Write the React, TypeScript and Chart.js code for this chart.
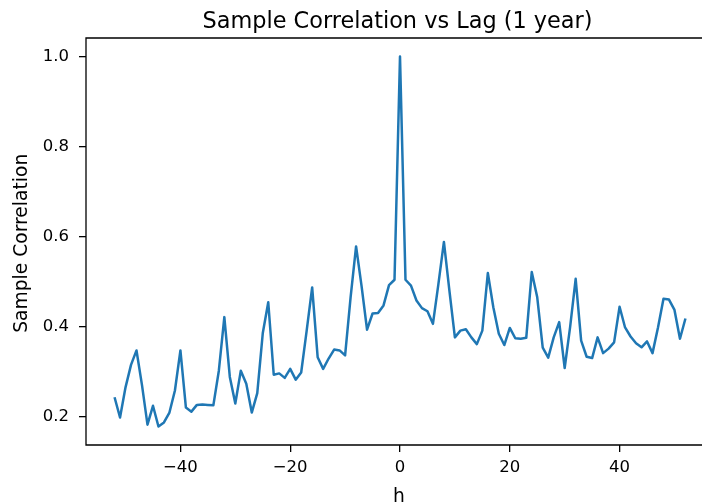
import { useEffect, useRef } from "react";
import { Chart, registerables } from "chart.js";

Chart.register(...registerables);

const lags = [
  -52, -51, -50, -49, -48, -47, -46, -45, -44, -43, -42, -41, -40, -39, -38, -37, -36, -35,
  -34, -33, -32, -31, -30, -29, -28, -27, -26, -25, -24, -23, -22, -21, -20, -19, -18, -17,
  -16, -15, -14, -13, -12, -11, -10, -9, -8, -7, -6, -5, -4, -3, -2, -1, 0, 1, 2, 3, 4, 5,
  6, 7, 8, 9, 10, 11, 12, 13, 14, 15, 16, 17, 18, 19, 20, 21, 22, 23, 24, 25, 26, 27, 28,
  29, 30, 31, 32, 33, 34, 35, 36, 37, 38, 39, 40, 41, 42, 43, 44, 45, 46, 47, 48, 49, 50,
  51, 52,
];

const correlations = [
  0.243, 0.198, 0.265, 0.315, 0.347, 0.27, 0.182, 0.224, 0.178, 0.187, 0.209, 0.258, 0.347,
  0.22, 0.211, 0.226, 0.227, 0.226, 0.225, 0.302, 0.421, 0.288, 0.229, 0.302, 0.273, 0.209,
  0.252, 0.385, 0.454, 0.293, 0.296, 0.286, 0.306, 0.282, 0.298, 0.391, 0.487, 0.332, 0.306,
  0.329, 0.349, 0.347, 0.336, 0.465, 0.578, 0.49, 0.393, 0.429, 0.43, 0.447, 0.492, 0.504,
  1.0,
  0.504, 0.491, 0.458, 0.441, 0.434, 0.406, 0.495, 0.588, 0.48, 0.376, 0.391, 0.394, 0.376,
  0.361, 0.391, 0.519, 0.443, 0.384, 0.359, 0.397, 0.374, 0.373, 0.375, 0.521, 0.465, 0.353,
  0.331, 0.376, 0.41, 0.308, 0.4, 0.506, 0.369, 0.333, 0.33, 0.376, 0.341, 0.351, 0.365,
  0.444, 0.398, 0.378, 0.363, 0.354, 0.367, 0.341, 0.398, 0.462, 0.46, 0.437, 0.373, 0.418,
];

const xTicks = [-40, -20, 0, 20, 40];
const yTicks = [0.2, 0.4, 0.6, 0.8, 1.0];
const xRange = [-57.2, 57.2];
const yRange = [0.1369, 1.0411];

const titleText = "Sample Correlation vs Lag (1 year)";
const xLabel = "h";
const yLabel = "Sample Correlation";

const FAMILY = "'DejaVu Sans', sans-serif";

export default function App() {
  const ref = useRef<HTMLCanvasElement>(null);

  useEffect(() => {
    if (!ref.current) return;

    const framePlugin = {
      id: "frameAndLabels",
      afterDraw(chart: any) {
        const { ctx, chartArea } = chart;
        const { left, top, right, bottom } = chartArea;
        ctx.save();
        ctx.strokeStyle = "#000";
        ctx.lineWidth = 1.3;
        ctx.beginPath();
        ctx.moveTo(right + 2, top);
        ctx.lineTo(left, top);
        ctx.lineTo(left, bottom);
        ctx.lineTo(right + 2, bottom);
        ctx.stroke();

        ctx.fillStyle = "#000";
        ctx.textAlign = "center";
        ctx.textBaseline = "alphabetic";
        ctx.font = `22.4px ${FAMILY}`;
        ctx.fillText(titleText, 397.5, 27.5);

        ctx.font = `18.7px ${FAMILY}`;
        ctx.fillText(xLabel, 399, 502);

        ctx.translate(27.3, 243.3);
        ctx.rotate(-Math.PI / 2);
        ctx.fillText(yLabel, 0, 0);
        ctx.restore();
      },
    };

    const tickFont = { family: FAMILY, size: 16.5 };

    const chart = new Chart(ref.current, {
      type: "line",
      data: {
        datasets: [
          {
            data: lags.map((h, i) => ({ x: h, y: correlations[i] })),
            borderColor: "#1f77b4",
            borderWidth: 2.5,
            borderJoinStyle: "round",
            pointRadius: 0,
            tension: 0,
            fill: false,
          },
        ],
      },
      options: {
        responsive: false,
        maintainAspectRatio: false,
        animation: false,
        devicePixelRatio: 1,
        layout: { padding: { top: 38, right: 46, left: 0, bottom: 0 } },
        plugins: {
          legend: { display: false },
          tooltip: { enabled: false },
          title: { display: false },
        },
        scales: {
          x: {
            type: "linear",
            min: xRange[0],
            max: xRange[1],
            afterBuildTicks: (s: any) => {
              s.ticks = xTicks.map((v) => ({ value: v }));
            },
            afterFit: (s: any) => {
              s.height = 58;
            },
            ticks: {
              font: tickFont,
              color: "#000",
              padding: 6,
              maxRotation: 0,
              autoSkip: false,
              callback: (v: any) => (Number(v) < 0 ? "\u2212" + Math.abs(Number(v)) : String(v)),
            },
            grid: {
              display: true,
              drawOnChartArea: false,
              drawTicks: true,
              tickLength: 7,
              color: "#000",
              lineWidth: 1.3,
            },
            border: { display: false },
          },
          y: {
            type: "linear",
            min: yRange[0],
            max: yRange[1],
            afterBuildTicks: (s: any) => {
              s.ticks = yTicks.map((v) => ({ value: v }));
            },
            afterFit: (s: any) => {
              s.width = 86;
            },
            ticks: {
              font: tickFont,
              color: "#000",
              padding: 10,
              autoSkip: false,
              callback: (v: any) => Number(v).toFixed(1),
            },
            grid: {
              display: true,
              drawOnChartArea: false,
              drawTicks: true,
              tickLength: 7,
              color: "#000",
              lineWidth: 1.3,
            },
            border: { display: false },
          },
        },
      },
      plugins: [framePlugin],
    } as any);

    return () => chart.destroy();
  }, []);

  return (
    <div
      style={{
        position: "fixed",
        left: 0,
        top: 0,
        width: 702,
        height: 503,
        overflow: "hidden",
        background: "#fff",
      }}
    >
      <canvas ref={ref} width={760} height={503} style={{ display: "block" }} />
    </div>
  );
}
